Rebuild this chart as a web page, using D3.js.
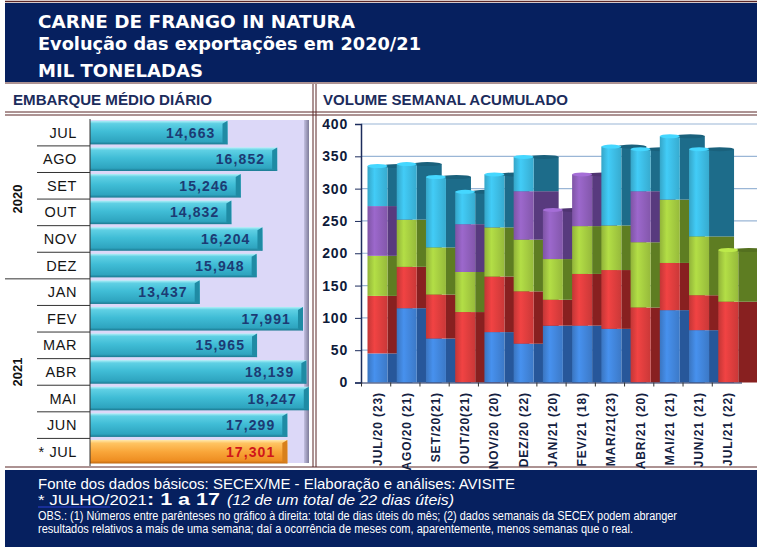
<!DOCTYPE html>
<html>
<head>
<meta charset="utf-8">
<script src="https://cdn.jsdelivr.net/npm/d3@7"></script>
<style>
  body { margin: 0; background: #fff; }
  svg { display: block; }
</style>
</head>
<body>
<div id="chart"></div>
<script>
// monthly daily average (left panel)
const months = ["JUL", "AGO", "SET", "OUT", "NOV", "DEZ", "JAN", "FEV", "MAR", "ABR", "MAI", "JUN", "* JUL"]
const dailyAvg = [14663, 16852, 15246, 14832, 16204, 15948, 13437, 17991, 15965, 18139, 18247, 17299, 17301]
const yearLabels = ["2020", "2021"]
const yearFirst = ["JUL", "JAN"],
      yearLast = ["DEZ", "* JUL"]

// weekly accumulated volume (right panel)
const weekCats = ["JUL/20 (23)", "AGO/20 (21)", "SET/20(21)", "OUT/20(21)", "NOV/20 (20)", "DEZ/20 (22)",
                  "JAN/21 (20)", "FEV/21 (18)", "MAR/21(23)", "ABR/21 (20)", "MAI/21 (21)", "JUN/21 (21)", "JUL/21 (22)"]
const week1 = [45, 115, 68, 0, 78, 60, 88, 88, 83, 0, 112, 81, 0]
const week2 = [89, 64, 68, 109, 86, 81, 40, 80, 91, 116, 73, 54, 125]
const week3 = [62, 73, 73, 62, 76, 80, 63, 74, 69, 101, 98, 91, 80]
const week4 = [77, 0, 0, 74, 0, 75, 76, 80, 0, 79, 0, 0, 0]
const week5 = [62, 86, 109, 50, 82, 53, 0, 0, 122, 65, 98, 135, 0]
const yTicks = [0, 50, 100, 150, 200, 250, 300, 350, 400]

const navy = "#06205f",
      maroon = "#5a2626",
      arial = "'Liberation Sans', Arial, sans-serif",
      narrow = "'Liberation Sans Narrow', 'Arial Narrow', 'Liberation Sans', sans-serif"

const W = 757, H = 552
const svg = d3.select("#chart").append("svg")
  .attr("width", W)
  .attr("height", H)
  .attr("viewBox", `0 0 ${W} ${H}`)

const defs = svg.append("defs")

// ---------- header ----------
svg.append("line").attr("x1", 5).attr("x2", W).attr("y1", 1.5).attr("y2", 1.5)
  .attr("stroke", maroon).attr("stroke-width", 1.5)
svg.append("rect").attr("x", 5).attr("y", 3).attr("width", W - 5).attr("height", 79).attr("fill", navy)
svg.append("line").attr("x1", 5).attr("x2", W).attr("y1", 83).attr("y2", 83)
  .attr("stroke", maroon).attr("stroke-width", 1)

const titles = [
  {t: "CARNE DE FRANGO IN NATURA", y: 28, len: 317},
  {t: "Evolução das exportações em 2020/21", y: 50, len: 383},
  {t: "MIL TONELADAS", y: 77, len: 165}
]
svg.selectAll(".title").data(titles).join("text")
  .attr("class", "title")
  .attr("x", 38).attr("y", d => d.y)
  .attr("textLength", d => d.len)
  .attr("lengthAdjust", "spacingAndGlyphs")
  .attr("fill", "#fff")
  .style("font-family", "'DejaVu Sans', Verdana, sans-serif")
  .style("font-weight", "bold")
  .style("font-size", "17.5px")
  .text(d => d.t)

// section titles row
svg.append("text").attr("x", 13).attr("y", 105)
  .attr("textLength", 199).attr("lengthAdjust", "spacingAndGlyphs")
  .attr("fill", "#1c2c5c").style("font-family", arial).style("font-weight", "bold").style("font-size", "15.5px")
  .text("EMBARQUE MÉDIO DIÁRIO")
svg.append("text").attr("x", 323).attr("y", 105)
  .attr("textLength", 245).attr("lengthAdjust", "spacingAndGlyphs")
  .attr("fill", "#1c2c5c").style("font-family", arial).style("font-weight", "bold").style("font-size", "15.5px")
  .text("VOLUME SEMANAL ACUMULADO")

// frame lines
;[112, 115].forEach(y => svg.append("line").attr("x1", 5).attr("x2", W).attr("y1", y).attr("y2", y)
  .attr("stroke", maroon).attr("stroke-width", 1))
;[313, 316].forEach(x => svg.append("line").attr("x1", x).attr("x2", x).attr("y1", 84).attr("y2", 467)
  .attr("stroke", maroon).attr("stroke-width", 1))
svg.append("line").attr("x1", 5).attr("x2", W).attr("y1", 467).attr("y2", 467)
  .attr("stroke", maroon).attr("stroke-width", 1.2)

// ---------- left panel: daily average ----------
const yBand = d3.scaleBand().domain(months).range([119.3, 465])
const xLeft = d3.scaleLinear().domain([8600, 18300]).range([90, 310])

// lavender back wall
const wall = defs.append("linearGradient").attr("id", "wallEdge")
wall.append("stop").attr("offset", 0).attr("stop-color", "#c2bfe0")
wall.append("stop").attr("offset", 1).attr("stop-color", "#7e7c9a")
svg.append("rect").attr("x", 90).attr("y", 120).attr("width", 219).attr("height", 343).attr("fill", "#dcd8f8")
svg.append("rect").attr("x", 304).attr("y", 120).attr("width", 5).attr("height", 343).attr("fill", "url(#wallEdge)")

const mkVGrad = (id, stops) => {
  const g = defs.append("linearGradient").attr("id", id).attr("x1", 0).attr("y1", 0).attr("x2", 0).attr("y2", 1)
  stops.forEach(s => g.append("stop").attr("offset", s[0]).attr("stop-color", s[1]))
}
mkVGrad("cyanBar", [[0, "#b2f0f8"], [0.12, "#5fd0e4"], [0.45, "#40bdd6"], [0.88, "#2ea4bf"], [1, "#1a7890"]])
mkVGrad("orangeBar", [[0, "#ffeab0"], [0.14, "#ffc462"], [0.5, "#f9a63a"], [0.88, "#ee8e22"], [1, "#c06a12"]])

const bh = yBand.bandwidth()
const lastMonth = months[months.length - 1]
const leftBars = svg.append("g")
months.forEach((m, i) => {
  const y = yBand(m) + 1.5, h = bh - 3, x1 = xLeft(dailyAvg[i])
  const isPartial = m === lastMonth
  leftBars.append("rect").attr("x", 90).attr("y", y).attr("width", x1 - 90).attr("height", h)
    .attr("fill", isPartial ? "url(#orangeBar)" : "url(#cyanBar)")
  leftBars.append("polygon")
    .attr("points", `${x1 - 5},${y + 3} ${x1},${y} ${x1},${y + h} ${x1 - 5},${y + h - 2}`)
    .attr("fill", isPartial ? "#d8801c" : "#1f8ba4")
  leftBars.append("text")
    .attr("x", x1 - 12).attr("y", yBand(m) + bh / 2 + 5)
    .attr("text-anchor", "end")
    .attr("fill", isPartial ? "#d0161a" : "#1c3b74")
    .style("font-family", arial).style("font-weight", "bold").style("font-size", "14px")
    .style("letter-spacing", "1.1px")
    .text(d3.format(",")(dailyAvg[i]))
})
svg.append("line").attr("x1", 90).attr("x2", 90).attr("y1", 119).attr("y2", 466)
  .attr("stroke", "#333").attr("stroke-width", 1)

// month labels + row separators
svg.append("g").selectAll("text").data(months).join("text")
  .attr("x", 77).attr("y", d => yBand(d) + bh / 2 + 5)
  .attr("text-anchor", "end")
  .attr("fill", "#151515")
  .style("font-family", arial).style("font-size", "14.5px").style("letter-spacing", "0.6px")
  .text(d => d)
svg.append("g").selectAll("line").data(months.slice(1)).join("line")
  .attr("x1", d => yearFirst.includes(d) ? 5 : 37).attr("x2", 90)
  .attr("y1", d => yBand(d)).attr("y2", d => yBand(d))
  .attr("stroke", "#333").attr("stroke-width", 1)

yearLabels.forEach((yr, k) => {
  const cy = (yBand(yearFirst[k]) + yBand(yearLast[k]) + bh) / 2
  svg.append("text")
    .attr("transform", `translate(22,${cy}) rotate(-90)`)
    .attr("text-anchor", "middle")
    .attr("fill", "#111")
    .style("font-family", arial).style("font-weight", "bold").style("font-size", "13px")
    .text(yr)
})

// ---------- right panel: weekly accumulated ----------
const xBand = d3.scaleBand().domain(weekCats).range([361.5, 741.5])
const yScale = d3.scaleLinear().domain([0, 400]).range([382.5, 124])

const weekKeys = ["w1", "w2", "w3", "w4", "w5"]
const weekColors = ["#3f80d2", "#d53b3b", "#9ec43e", "#8a5cb4", "#3ab4da"]
const weekSides = ["#27579a", "#882020", "#5e7d22", "#583a7e", "#1d6c8a"]
const rows = weekCats.map((c, i) => ({cat: c, w1: week1[i], w2: week2[i], w3: week3[i], w4: week4[i], w5: week5[i]}))
const stacked = d3.stack().keys(weekKeys)(rows)

weekColors.forEach((c, k) => {
  const g = defs.append("linearGradient").attr("id", "front" + k)
  const base = d3.color(c)
  g.append("stop").attr("offset", 0).attr("stop-color", base.darker(0.25))
  g.append("stop").attr("offset", 0.35).attr("stop-color", base.brighter(0.35))
  g.append("stop").attr("offset", 1).attr("stop-color", base.darker(0.15))
})

// gridlines
svg.append("g").selectAll("line").data(yTicks.slice(1)).join("line")
  .attr("x1", 361).attr("x2", W)
  .attr("y1", d => yScale(d)).attr("y2", d => yScale(d))
  .attr("stroke", "#9ab6d6").attr("stroke-width", 1.2)

defs.append("clipPath").attr("id", "plotClip")
  .append("rect").attr("x", 361).attr("y", 100).attr("width", W - 361).attr("height", 283)

const colG = svg.append("g").attr("clip-path", "url(#plotClip)")
const frontW = 20, sideW = 25
weekCats.forEach((c, i) => {
  const bx = xBand(c) + 6
  let topVal = 0, topK = 0
  stacked.forEach((s, k) => {
    const d = s[i]
    if (d[1] - d[0] <= 0) return
    const y0 = yScale(d[0]), y1 = yScale(d[1])
    colG.append("rect").attr("x", bx + frontW).attr("y", y1).attr("width", sideW).attr("height", y0 - y1)
      .attr("fill", weekSides[k])
    colG.append("rect").attr("x", bx).attr("y", y1).attr("width", frontW).attr("height", y0 - y1)
      .attr("fill", `url(#front${k})`)
    topVal = d[1]; topK = k
  })
  const yt = yScale(topVal)
  colG.append("ellipse").attr("cx", bx + frontW + sideW / 2 - 2).attr("cy", yt).attr("rx", sideW / 2 + 2).attr("ry", 2)
    .attr("fill", d3.color(weekSides[topK]).darker(0.3))
  colG.append("ellipse").attr("cx", bx + frontW / 2).attr("cy", yt).attr("rx", frontW / 2).attr("ry", 2)
    .attr("fill", d3.color(weekColors[topK]).brighter(0.5))
})

// y axis
const yAxis = svg.append("g")
  .attr("transform", "translate(361,0)")
  .call(d3.axisLeft(yScale).tickValues(yTicks).tickSize(6).tickPadding(7))
yAxis.select(".domain").attr("stroke", "#1c2c5c").attr("stroke-width", 1.5)
yAxis.selectAll(".tick line").attr("stroke", "#1c2c5c")
yAxis.selectAll(".tick text")
  .attr("fill", "#0e1a3a")
  .style("font-family", arial).style("font-weight", "bold").style("font-size", "14px")
  .style("letter-spacing", "0.8px")

// x axis
const xAxis = svg.append("g")
  .attr("transform", "translate(0,382.5)")
  .call(d3.axisBottom(xBand).tickSize(0).tickFormat(""))
xAxis.select(".domain").attr("stroke", "#1c2c5c").attr("stroke-width", 1)
svg.append("g").selectAll("line").data(weekCats).join("line")
  .attr("x1", d => xBand(d)).attr("x2", d => xBand(d))
  .attr("y1", 382.5).attr("y2", 386.5)
  .attr("stroke", "#333")
svg.append("g").selectAll("text").data(weekCats).join("text")
  .attr("transform", d => `translate(${xBand(d) + 6 + frontW / 2 + 4},392) rotate(-90)`)
  .attr("text-anchor", "end")
  .attr("fill", "#14213f")
  .style("font-family", arial).style("font-weight", "bold").style("font-size", "12px")
  .style("letter-spacing", "0.9px")
  .text(d => d)

// ---------- footer ----------
svg.append("rect").attr("x", 5).attr("y", 470).attr("width", W - 5).attr("height", 77).attr("fill", navy)

const foot = svg.append("g").attr("fill", "#fff")
const footLines = [
  {x: 38, y: 488.5, len: 477, size: 15, w: "normal", s: "normal",
   t: "Fonte dos dados básicos: SECEX/ME - Elaboração e análises: AVISITE"},
  {x: 38, y: 505, len: 109, size: 14.5, w: "normal", s: "normal", t: "*   JULHO/2021"},
  {x: 147, y: 505, len: 73, size: 16.5, w: "bold", s: "normal", t: ": 1 a 17"},
  {x: 227, y: 505, len: 227, size: 15, w: "normal", s: "italic", t: "(12 de um total de 22 dias úteis)"},
  {x: 38, y: 520, len: 639, size: 12, w: "normal", s: "normal",
   t: "OBS.: (1) Números entre parênteses no gráfico à direita: total de dias úteis do mês; (2) dados semanais da SECEX podem abranger"},
  {x: 38, y: 533, len: 595, size: 12, w: "normal", s: "normal",
   t: "resultados relativos a mais de uma semana; daí a ocorrência de meses com, aparentemente, menos semanas que o real."}
]
foot.selectAll("text").data(footLines).join("text")
  .attr("x", d => d.x).attr("y", d => d.y)
  .attr("textLength", d => d.len).attr("lengthAdjust", "spacingAndGlyphs")
  .style("font-family", d => d.w === "bold" ? arial : narrow)
  .style("font-size", d => d.size + "px")
  .style("font-weight", d => d.w)
  .style("font-style", d => d.s)
  .text(d => d.t)
svg.append("line").attr("x1", 38).attr("x2", 110).attr("y1", 507).attr("y2", 507)
  .attr("stroke", "#2b3fd4").attr("stroke-width", 1.2)
</script>
</body>
</html>
